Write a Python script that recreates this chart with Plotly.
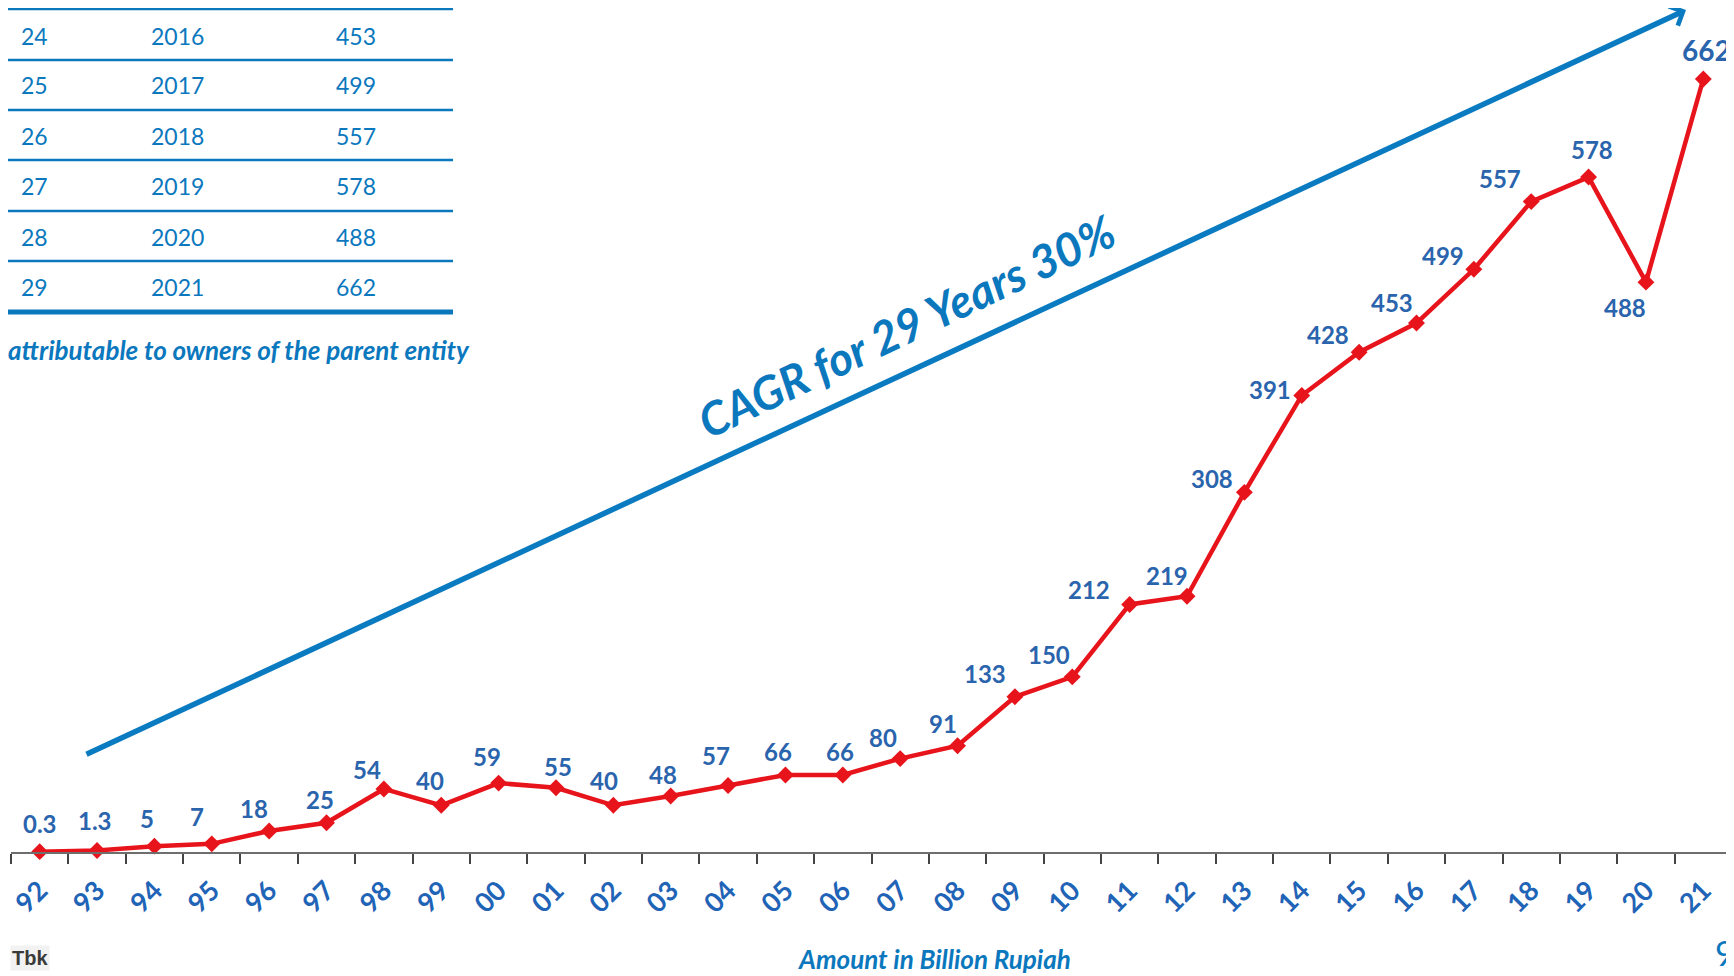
import plotly.graph_objects as go

# ---- data ----
years = ["92", "93", "94", "95", "96", "97", "98", "99", "00", "01", "02", "03", "04", "05", "06",
         "07", "08", "09", "10", "11", "12", "13", "14", "15", "16", "17", "18", "19", "20", "21"]
values = [0.3, 1.3, 5, 7, 18, 25, 54, 40, 59, 55, 40, 48, 57, 66, 66,
          80, 91, 133, 150, 212, 219, 308, 391, 428, 453, 499, 557, 578, 488, 662]
value_labels = ["0.3", "1.3", "5", "7", "18", "25", "54", "40", "59", "55", "40", "48", "57", "66", "66",
                "80", "91", "133", "150", "212", "219", "308", "391", "428", "453", "499", "557", "578", "488", "662"]
table_no = [24, 25, 26, 27, 28, 29]
table_year = [2016, 2017, 2018, 2019, 2020, 2021]
table_val = values[-6:]

# label offsets in pixels (dx, dy up) -- styling only
label_dx = [0, -2, -7, -15, -15, -7, -17, -11, -12, 2, -9, -8, -12, -7, -3,
            -17, -15, -30, -23, -41, -20, -32, -32, -31, -24, -31, -31, 3, -21, 3]
label_dy = [28, 30, 28, 27, 22, 23, 19, 25, 27, 21, 25, 21, 30, 23, 23,
            21, 22, 23, 22, 15, 21, 14, 6, 18, 21, 14, 23, 28, -25, 29]

OFF = 8  # page body margin
W, H = 1734 - OFF, 976 - OFF
L, R, T, B = 3, 2, 0, 124
PW, PH = W - L - R, H - T - B
YMAX = PH / 1.1677


def px(x):
    return (x - OFF - L) / PW


def py(y):
    return (H - B - (y - OFF)) / PH


BLUE = "#0b78be"
LABEL_BLUE = "#2a64ad"
RED = "#e8141b"

fig = go.Figure()
fig.add_trace(go.Scatter(
    x=list(range(len(years))), y=values, mode="lines+markers",
    line=dict(color=RED, width=4.5),
    marker=dict(symbol="diamond", size=13, color=RED),
    cliponaxis=False, hoverinfo="skip", showlegend=False,
))

ann = []
for i, (v, t) in enumerate(zip(values, value_labels)):
    big = (i == len(years) - 1)
    ann.append(dict(x=i, y=v, xref="x", yref="y", text=t, showarrow=False,
                    xshift=label_dx[i], yshift=label_dy[i],
                    xanchor="center", yanchor="middle",
                    font=dict(family="Lato", size=28 if big else 24, color=LABEL_BLUE, weight="bold")))

# CAGR arrow
ann.append(dict(x=px(1686), y=py(10), xref="paper", yref="paper",
                ax=85 - 1686, ay=755 - 10, axref="pixel", ayref="pixel",
                text="", showarrow=True, arrowhead=4, arrowsize=0.75, arrowwidth=5.5,
                arrowcolor="#0a7bc1"))
ann.append(dict(x=px(907), y=py(326), xref="paper", yref="paper",
                text="<b><i>CAGR for 29 Years 30%</i></b>", showarrow=False, textangle=-25.5,
                xanchor="center", yanchor="middle",
                font=dict(family="Lato", size=46, color=BLUE)))

# table
shapes = []
line_ys = [9, 60, 110, 160, 211, 261]
for ly in line_ys:
    shapes.append(dict(type="line", xref="paper", yref="paper",
                       x0=px(0), x1=px(453), y0=py(ly), y1=py(ly),
                       line=dict(color=BLUE, width=2.5)))
shapes.append(dict(type="line", xref="paper", yref="paper",
                   x0=px(0), x1=px(453), y0=py(312), y1=py(312),
                   line=dict(color=BLUE, width=5)))
row_centers = [36, 85, 136, 186, 237, 287]
for rc, n, yr, v in zip(row_centers, table_no, table_year, table_val):
    for xx, t in ((19, str(n)), (149, str(yr)), (334, str(int(v)))):
        ann.append(dict(x=px(xx), y=py(rc), xref="paper", yref="paper", text=t, showarrow=False,
                        xanchor="left", yanchor="middle",
                        font=dict(family="Lato", size=23, color=BLUE)))

ann.append(dict(x=px(6), y=py(350), xref="paper", yref="paper",
                text="<b><i>attributable to owners of the parent entity</i></b>", showarrow=False,
                xanchor="left", yanchor="middle",
                font=dict(family="Lato", size=26, color=BLUE)))
ann.append(dict(x=px(934), y=py(959), xref="paper", yref="paper",
                text="<b><i>Amount in Billion Rupiah</i></b>", showarrow=False,
                xanchor="center", yanchor="middle",
                font=dict(family="Lato", size=26, color=BLUE)))
ann.append(dict(x=px(10), y=py(958), xref="paper", yref="paper",
                text="<b>Tbk</b>", showarrow=False, xanchor="left", yanchor="middle",
                bgcolor="#f2f2f2",
                font=dict(family="Liberation Sans", size=20, color="#3a3a3a")))
ann.append(dict(x=px(1713), y=py(952), xref="paper", yref="paper",
                text="9", showarrow=False, xanchor="left", yanchor="middle",
                font=dict(family="Lato", size=34, color=BLUE)))

fig.update_layout(
    width=W, height=H,
    margin=dict(l=L, r=R, t=T, b=B),
    paper_bgcolor="white", plot_bgcolor="white",
    annotations=ann, shapes=shapes,
    xaxis=dict(tickmode="array", tickvals=list(range(len(years))), ticktext=years,
               range=[-0.5, len(years) - 0.5], showgrid=False, zeroline=False,
               showline=True, linecolor="#6e6e6e", linewidth=2,
               ticks="", tickangle=-45, ticklabelstandoff=10, ticklabeloverflow="allow",
               minor=dict(tickmode="array", tickvals=[i - 0.5 for i in range(len(years) + 1)],
                          ticks="outside", ticklen=10, tickwidth=1.5, tickcolor="#444"),
               tickfont=dict(family="Lato", size=27, color="#1f64b6", weight="bold")),
    yaxis=dict(range=[0, YMAX], visible=False, showgrid=False, zeroline=False),
)

fig.write_html("out.html")
